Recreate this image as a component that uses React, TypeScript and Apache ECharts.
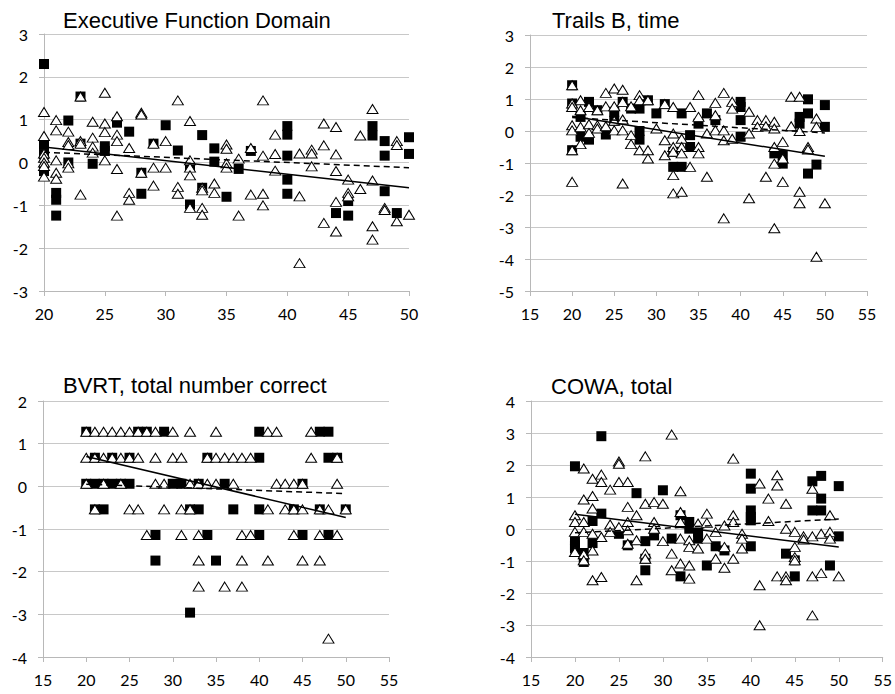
import React, { useEffect, useRef } from "react";
import * as echarts from "echarts";

type Group = [number, number[]];

// ---------- Executive Function Domain ----------
const efSquares: Group[] = [
  [20, [2.3, 0.41, 0.19, -0.2]], [21, [-0.71, -0.87, -1.24]], [22, [0.98, 0.0]], [23, [1.54, 0.44]],
  [24, [-0.03]], [25, [0.38, 0.27]], [26, [0.93]], [27, [0.72]], [28, [-0.24, -0.73]], [29, [0.44]],
  [30, [0.87]], [31, [0.28]], [32, [-0.98, -0.1]], [33, [0.64, -0.59]], [34, [0.33, 0.02]], [35, [-0.8]],
  [36, [-0.15]], [37, [0.27]], [40, [0.85, 0.65, 0.16, -0.4, -0.73]], [44, [-1.18]], [45, [-0.9, -1.24]],
  [47, [0.85, 0.63]], [48, [0.5, 0.16, -0.67]], [49, [-1.18]], [50, [0.59, 0.2]],
];
const efTriangles: Group[] = [
  [20, [1.18, 0.62, 0.21, 0.11, 0.0, -0.08, -0.33]], [21, [0.99, 0.75, 0.05, -0.24, -0.38]],
  [22, [0.72, 0.48, 0.41, -0.02, -0.12]], [23, [1.54, 0.5, 0.44, -0.75]], [24, [0.95, 0.58, 0.37, 0.23]],
  [25, [1.63, 0.91, 0.71, 0.05]], [26, [1.08, 0.65, 0.5, -0.15, -1.24]], [27, [0.34, -0.71, -0.87]],
  [28, [1.16, 1.12, -0.24]], [29, [0.44, -0.12, -0.54]], [30, [0.5, -0.12]], [31, [1.45, -0.57, -0.73]],
  [32, [0.97, 0.05, -0.12, -0.3, -1.06]], [33, [-0.59, -0.65, -1.06, -1.22]], [34, [-0.49, -0.71]],
  [35, [0.42, 0.32, -0.02, -0.12]], [36, [0.09, -1.24]], [37, [0.34, -0.75]], [38, [1.45, 0.16, -0.73, -1.0]],
  [39, [0.65, 0.2, -0.19]], [41, [0.21, -0.79, -2.35]], [42, [0.3, 0.21, -0.09]], [43, [0.91, 0.4, -1.41]],
  [44, [0.83, 0.19, -0.2, -0.92, -1.61]], [45, [-0.4, -0.71, -0.79]], [46, [0.63, -0.62]],
  [47, [1.25, -0.42, -1.49, -1.8]], [48, [-1.06, -1.11]], [49, [0.5, 0.41, -1.37]], [50, [-1.22]],
];
const efSolid = [[20, 0.36], [50, -0.59]];
const efDashed = [[20, 0.24], [50, -0.12]];

// ---------- Trails B, time ----------
const tbSquares: Group[] = [
  [20, [1.43, 0.86, -0.6]], [21, [0.44, -0.18]], [22, [0.91, -0.27]], [23, [0.65]], [24, [-0.11]],
  [25, [0.6, 0.32]], [26, [0.91]], [27, [0.7]], [28, [0.7, 0, -0.27]], [29, [0.96]], [30, [0.55]],
  [31, [0.84]], [32, [-0.65, -1.12]], [33, [0.55, -1.12]], [34, [-0.13, -0.5]], [35, [0.23]], [36, [0.55]],
  [37, [0.34]], [40, [0.91, 0.75, 0.34, -0.18]], [44, [-0.7]], [45, [-0.75, -1.02]], [47, [0.44, 0.23]],
  [48, [0.99, 0.55, -1.33]], [49, [-1.05]], [50, [0.81, 0.13]],
];
const tbTriangles: Group[] = [
  [20, [1.43, 0.86, 0.75, 0.18, 0.02, -0.6, -1.59]], [21, [0.96, 0.65, 0.13, -0.41]], [22, [0.75, 0.21, -0.06]],
  [23, [0.65, 0.18, 0.08]], [24, [1.19, 0.77, 0.15]], [25, [1.33, 0.77, 0.32, 0.02]],
  [26, [1.29, 0.91, 0.36, 0.02, -1.64]], [27, [0.77, -0.13, -0.41]], [28, [1.12, 0.96, -0.6]],
  [29, [0.96, -0.6, -0.86]], [30, [0.08]], [31, [0.84, -0.29, -0.76]], [32, [0.75, -0.08, -0.5, -0.65, -1.38, -1.95]],
  [33, [-0.24, -0.5, -0.7, -1.9]], [34, [0.75, -1.12]], [35, [1.12, 0.44, -0.5, -0.7]], [36, [-0.08, -1.43]],
  [37, [0.88, 0.49, 0.02]], [38, [1.19, 0.02, -0.29, -2.73]], [39, [0.91, 0.7, -0.24]], [41, [0.6, -0.08, -2.1]],
  [42, [0.34, 0.13]], [43, [0.34, 0.15, -1.43]], [44, [0.29, 0.08, -0.5, -1.02, -3.04]], [45, [-0.34, -0.86, -1.59]],
  [46, [1.07, 0.15]], [47, [1.07, 0, -1.9, -2.26]], [48, [-0.5, -0.58]], [49, [0.39, 0.13, -3.93]], [50, [-2.26]],
];
const tbSolid = [[20, 0.46], [50, -0.79]];
const tbDashed = [[20, 0.42], [50, -0.06]];

// ---------- BVRT, total number correct (grouped by score level: [y, ages]) ----------
const bvSquaresByLevel: Group[] = [
  [1.28, [20, 26, 27, 29, 40, 47, 48]],
  [0.67, [21, 23, 25, 34, 40, 48, 49]],
  [0.06, [20, 21, 22, 23, 24, 25, 30, 31, 33, 36, 45]],
  [-0.54, [21, 22, 32, 33, 37, 40, 44, 47, 50]],
  [-1.14, [28, 34, 40, 45, 48]],
  [-1.74, [28, 35]],
  [-2.96, [32]],
];
const bvTrianglesByLevel: Group[] = [
  [1.28, [20, 21, 22, 23, 24, 25, 26, 27, 28, 30, 32, 35, 41, 42, 46]],
  [0.67, [20, 21, 22, 23, 24, 25, 26, 28, 30, 31, 34, 35, 36, 37, 38, 39, 46, 49]],
  [0.06, [20, 22, 24, 28, 29, 32, 33, 34, 35, 37, 42, 43, 44, 45, 49]],
  [-0.54, [21, 25, 26, 29, 31, 32, 41, 43, 44, 45, 47, 48, 50]],
  [-1.14, [27, 31, 33, 38, 39, 44, 47, 49]],
  [-1.74, [33, 38, 41, 45, 47]],
  [-2.35, [33, 36, 38]],
  [-3.57, [48]],
];
const bvSolid = [[20, 0.7], [50, -0.73]];
const bvDashed = [[20, 0.05], [50, -0.17]];

// ---------- COWA, total ----------
const cwSquares: Group[] = [
  [20, [1.96, -0.35, -0.51, -0.61]], [21, [-0.75, -1.03]], [22, [0.25, -0.44]], [23, [2.9, 0.48]], [25, [-0.15]],
  [26, [-0.51]], [27, [1.12]], [28, [-0.38, -0.93, -1.29]], [29, [-0.2]], [30, [1.21]], [31, [-0.3]],
  [32, [0.43, -1.48]], [33, [0.22, 0.01]], [34, [-0.09, -0.3]], [35, [-1.14]], [36, [-0.54]], [37, [-0.67]],
  [40, [1.73, 1.26, 0.58, 0.38, 0.27, -0.54]], [44, [-0.77]], [45, [-0.98, -1.48]], [47, [1.49, 0.58]],
  [48, [1.66, 0.95, 0.58]], [49, [-1.14]], [50, [1.34, -0.23]],
];
const cwTriangles: Group[] = [
  [20, [0.43, 0.22, -0.09, -0.72]], [21, [1.89, 0.92, 0.22, -0.09, -0.79, -0.98]],
  [22, [1.57, 1.03, 0.64, -0.15, -0.67, -1.6]], [23, [1.7, 1.47, -0.25, -1.5]], [24, [1.23, 0.14, -0.09]],
  [25, [2.11, 2.04, 1.47, 0.06]], [26, [1.47, 0.69, 0.22, -0.04, -0.46]], [27, [0.43, -0.35, -1.6]],
  [28, [2.27, 0.79, -0.77, -0.93]], [29, [0.84, 0.22, 0.01]], [30, [0.79, -0.38]], [31, [2.95, -0.77, -1.29]],
  [32, [1.18, 0.53, 0.22, -0.3, -1.08]], [33, [-0.35, -0.56, -1.14, -1.55]], [34, [0.17, -0.61]],
  [35, [0.48, 0.19, -0.3]], [36, [-0.09, -0.93]], [37, [0.11, -0.56, -1.21]], [38, [2.2, 0.43, 0.22, -0.93]],
  [39, [-0.15, -0.3, -0.61]], [41, [1.42, -1.76, -3.01]], [42, [0.95, 0.25]], [43, [1.68, 1.36, -1.48]],
  [44, [0.79, 0.01, -1.48, -1.6]], [45, [-0.09, -0.56, -0.88, -0.98]], [46, [-0.23, -0.33]],
  [47, [1.26, -0.23, -1.48, -2.7]], [48, [-0.15, -1.38]], [49, [0.43, -0.09, -0.3]], [50, [-1.48]],
];
const cwSolid = [[20, 0.46], [50, -0.56]];
const cwDashed = [[20, -0.12], [50, 0.31]];

const titles = ["Executive Function Domain", "Trails B, time", "BVRT, total number correct", "COWA, total"];

const byX = (g: Group[]) => g.flatMap(([x, ys]) => ys.map((y) => [x, y]));
const byY = (g: Group[]) => g.flatMap(([y, xs]) => xs.map((x) => [x, y]));

const panels = [
  { title: titles[0], sq: byX(efSquares), tri: byX(efTriangles), solid: efSolid, dashed: efDashed,
    grid: { left: 44, top: 34, width: 365, height: 257 }, xMin: 20, xMax: 50, yMin: -3, yMax: 3, tLeft: 63, tTop: 8 },
  { title: titles[1], sq: byX(tbSquares), tri: byX(tbTriangles), solid: tbSolid, dashed: tbDashed,
    grid: { left: 530, top: 35, width: 337, height: 256 }, xMin: 15, xMax: 55, yMin: -5, yMax: 3, tLeft: 552, tTop: 8 },
  { title: titles[2], sq: byY(bvSquaresByLevel), tri: byY(bvTrianglesByLevel), solid: bvSolid, dashed: bvDashed,
    grid: { left: 43, top: 401, width: 346, height: 256 }, xMin: 15, xMax: 55, yMin: -4, yMax: 2, tLeft: 63, tTop: 373 },
  { title: titles[3], sq: byX(cwSquares), tri: byX(cwTriangles), solid: cwSolid, dashed: cwDashed,
    grid: { left: 531, top: 401, width: 352, height: 256 }, xMin: 15, xMax: 55, yMin: -4, yMax: 4, tLeft: 551, tTop: 374 },
];

const AXIS_GREY = "#b8b8b8";
const labelFont = { color: "#000", fontSize: 16, fontFamily: "Lato, 'Open Sans', sans-serif" };

export default function App() {
  const ref = useRef<HTMLDivElement>(null);
  useEffect(() => {
    if (!ref.current) return;
    const chart = echarts.init(ref.current, null, { renderer: "svg" });
    const option: any = {
      animation: false,
      backgroundColor: "#fff",
      title: panels.map((p) => ({
        text: p.title, left: p.tLeft, top: p.tTop, padding: 0,
        textStyle: { fontFamily: "'Liberation Sans', Arial, sans-serif", fontWeight: "normal", fontSize: 22, lineHeight: 24, color: "#000" },
      })),
      grid: panels.map((p) => ({ ...p.grid, containLabel: false })),
      xAxis: panels.map((p, i) => ({
        type: "value", gridIndex: i, min: p.xMin, max: p.xMax, interval: 5,
        axisLine: { show: true, onZero: false, lineStyle: { color: AXIS_GREY, width: 1 } },
        axisTick: { show: true, inside: false, length: 5, lineStyle: { color: AXIS_GREY } },
        axisLabel: { ...labelFont, margin: 14 },
        splitLine: { show: false },
      })),
      yAxis: panels.map((p, i) => ({
        type: "value", gridIndex: i, min: p.yMin, max: p.yMax, interval: 1,
        axisLine: { show: true, onZero: false, lineStyle: { color: AXIS_GREY, width: 1 } },
        axisTick: { show: true, inside: false, length: 5, lineStyle: { color: AXIS_GREY } },
        axisLabel: { ...labelFont, margin: 16 },
        splitLine: { show: true, lineStyle: { color: "#c8c8c8", width: 1 } },
      })),
      series: panels.flatMap((p, i) => [
        { type: "scatter", xAxisIndex: i, yAxisIndex: i, data: p.sq, symbol: "rect", symbolSize: 10,
          itemStyle: { color: "#000", opacity: 1 }, z: 2 },
        { type: "scatter", xAxisIndex: i, yAxisIndex: i, data: p.tri, symbol: "triangle", symbolSize: [11, 9],
          itemStyle: { color: "#fff", borderColor: "#000", borderWidth: 1, opacity: 1 }, z: 3 },
        { type: "line", xAxisIndex: i, yAxisIndex: i, data: p.dashed, symbol: "none",
          lineStyle: { color: "#000", width: 1.5, type: [6, 4] }, z: 4 },
        { type: "line", xAxisIndex: i, yAxisIndex: i, data: p.solid, symbol: "none",
          lineStyle: { color: "#000", width: 1.5, type: "solid" }, z: 4 },
      ]),
    };
    chart.setOption(option);
    return () => chart.dispose();
  }, []);
  return <div ref={ref} style={{ position: "fixed", left: 0, top: 0, width: 895, height: 694, background: "#fff" }} />;
}
